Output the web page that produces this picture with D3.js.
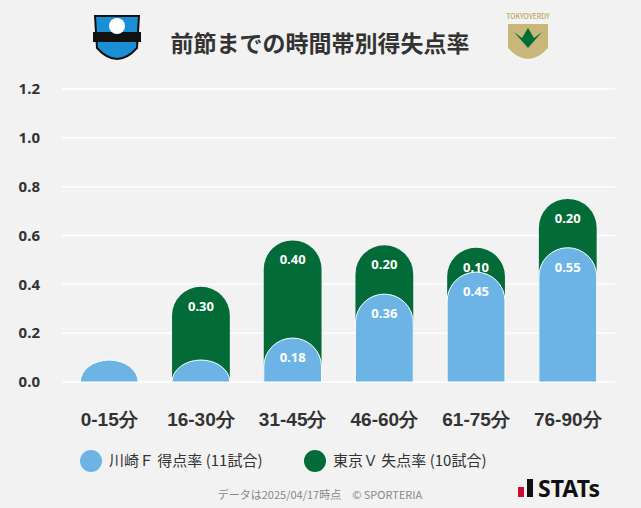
<!DOCTYPE html>
<html><head><meta charset="utf-8">
<script src="https://cdn.jsdelivr.net/npm/d3@7"></script>
<style>
body{margin:0;background:#f2f2f2;font-family:"Noto Sans CJK JP","Noto Sans",sans-serif;}
</style></head>
<body><div id="chart"></div>
<script>
// chart data
const categories = ['0-15分', '16-30分', '31-45分', '46-60分', '61-75分', '76-90分'];
const scored = [0.09, 0.09, 0.18, 0.36, 0.45, 0.55];
const conceded = [0, 0.30, 0.40, 0.20, 0.10, 0.20];
const yTicks = [0, 0.2, 0.4, 0.6, 0.8, 1.0, 1.2];
const seriesNames = ['川崎Ｆ 得点率 (11試合)', '東京Ｖ 失点率 (10試合)'];

const BLUE = '#6cb4e6', GREEN = '#036b37';
const width = 641, height = 508;
const margin = { top: 89, left: 62, right: 26, bottom: 126 };

const svg = d3.select('#chart').append('svg')
  .attr('width', width).attr('height', height)
  .style('background', '#f2f2f2');

const x = d3.scaleBand().domain(categories)
  .range([margin.left, width - margin.right]).paddingInner(0.37).paddingOuter(0.2);
const y = d3.scaleLinear().domain([0, 1.2]).range([height - margin.bottom, margin.top]);

// grid
svg.selectAll('line.grid').data(yTicks).enter().append('line')
  .attr('x1', margin.left).attr('x2', width - margin.right)
  .attr('y1', d => y(d)).attr('y2', d => y(d))
  .attr('stroke', '#fff').attr('stroke-width', 1.5);

const yAxis = svg.append('g').attr('transform', `translate(${margin.left},0)`)
  .call(d3.axisLeft(y).tickValues(yTicks).tickFormat(d3.format('.1f')).tickSize(0).tickPadding(22));
yAxis.select('.domain').remove();
yAxis.selectAll('text').attr('font-size', 15).attr('font-weight', 'bold').attr('fill', '#333')
  .attr('font-family', '"Noto Sans",sans-serif');

const xAxis = svg.append('g').attr('transform', `translate(0,${y(0)})`)
  .call(d3.axisBottom(x).tickSize(0).tickPadding(31));
xAxis.select('.domain').remove();
xAxis.selectAll('text').attr('font-size', 19).attr('font-weight', 'bold').attr('fill', '#333');

// pill path: square bottom, round top
function pill(cx, w, top, bottom) {
  const r = w / 2;
  const h = bottom - top;
  const rr = Math.min(r, h);
  return `M${cx - r},${bottom} L${cx - r},${top + rr} A${r},${rr} 0 0 1 ${cx + r},${top + rr} L${cx + r},${bottom} Z`;
}

const bw = x.bandwidth();
categories.forEach((c, i) => {
  const cx = x(c) + bw / 2;
  const total = scored[i] + conceded[i];
  if (conceded[i] > 0) {
    svg.append('path').attr('d', pill(cx, bw, y(total), y(0))).attr('fill', GREEN);
    svg.append('text').attr('x', cx).attr('y', y(total) + 24).attr('text-anchor', 'middle')
      .attr('font-size', 13).attr('font-weight', 'bold').attr('fill', '#fff')
      .attr('font-family', '"Noto Sans",sans-serif').text(conceded[i].toFixed(2));
  }
  svg.append('path').attr('d', pill(cx, bw, y(scored[i]), y(0)))
    .attr('fill', BLUE).attr('stroke', '#fff').attr('stroke-width', 1);
  if (scored[i] >= 0.1) {
    svg.append('text').attr('x', cx).attr('y', y(scored[i]) + 24).attr('text-anchor', 'middle')
      .attr('font-size', 13).attr('font-weight', 'bold').attr('fill', '#fff')
      .attr('font-family', '"Noto Sans",sans-serif').text(scored[i].toFixed(2));
  }
});

// title
svg.append('text').attr('x', 320).attr('y', 52).attr('text-anchor', 'middle')
  .attr('font-size', 23).attr('font-weight', 'bold').attr('fill', '#333').text('前節までの時間帯別得失点率');

// simple emblems
const emb1 = svg.append('g').attr('transform', 'translate(117,40)');
emb1.append('path').attr('d', 'M-22,-24 L22,-24 L20,8 Q0,30 -20,8 Z').attr('fill', '#1a8fd6').attr('stroke', '#111').attr('stroke-width', 2);
emb1.append('rect').attr('x', -24).attr('y', -8).attr('width', 48).attr('height', 10).attr('fill', '#111');
emb1.append('circle').attr('r', 8).attr('cy', -14).attr('fill', '#fff');
const emb2 = svg.append('g').attr('transform', 'translate(528,42)');
emb2.append('text').attr('y', -23).attr('text-anchor', 'middle').attr('font-size', 7).attr('fill', '#b8962e').text('TOKYOVERDY');
emb2.append('path').attr('d', 'M-20,-18 L20,-18 L20,6 Q0,28 -20,6 Z').attr('fill', '#c9b77a');
emb2.append('path').attr('d', 'M-14,-10 L0,6 L14,-10 L6,-4 L0,-14 L-6,-4 Z').attr('fill', GREEN);

// legend
const legend = svg.append('g').attr('transform', 'translate(0,461)');
[[BLUE, 91], [GREEN, 315]].forEach(([col, lx], i) => {
  legend.append('circle').attr('cx', lx).attr('cy', 0).attr('r', 11).attr('fill', col);
  legend.append('text').attr('x', lx + 18).attr('y', 5).attr('font-size', 15).attr('fill', '#333').text(seriesNames[i]);
});

// footer
svg.append('text').attr('x', 320).attr('y', 499).attr('text-anchor', 'middle')
  .attr('font-size', 11).attr('fill', '#888').text('データは2025/04/17時点　© SPORTERIA');
const st = svg.append('g').attr('transform', 'translate(518,478)');
st.append('rect').attr('x', 0).attr('y', 9).attr('width', 6).attr('height', 10).attr('fill', '#c8102e');
st.append('rect').attr('x', 9).attr('y', 1).attr('width', 6).attr('height', 18).attr('fill', '#111');
st.append('text').attr('x', 20).attr('y', 19).attr('font-size', 23).attr('font-weight', 'bold')
  .attr('font-family', '"Noto Sans",sans-serif').attr('fill', '#111').text('STATs');
</script></body></html>
